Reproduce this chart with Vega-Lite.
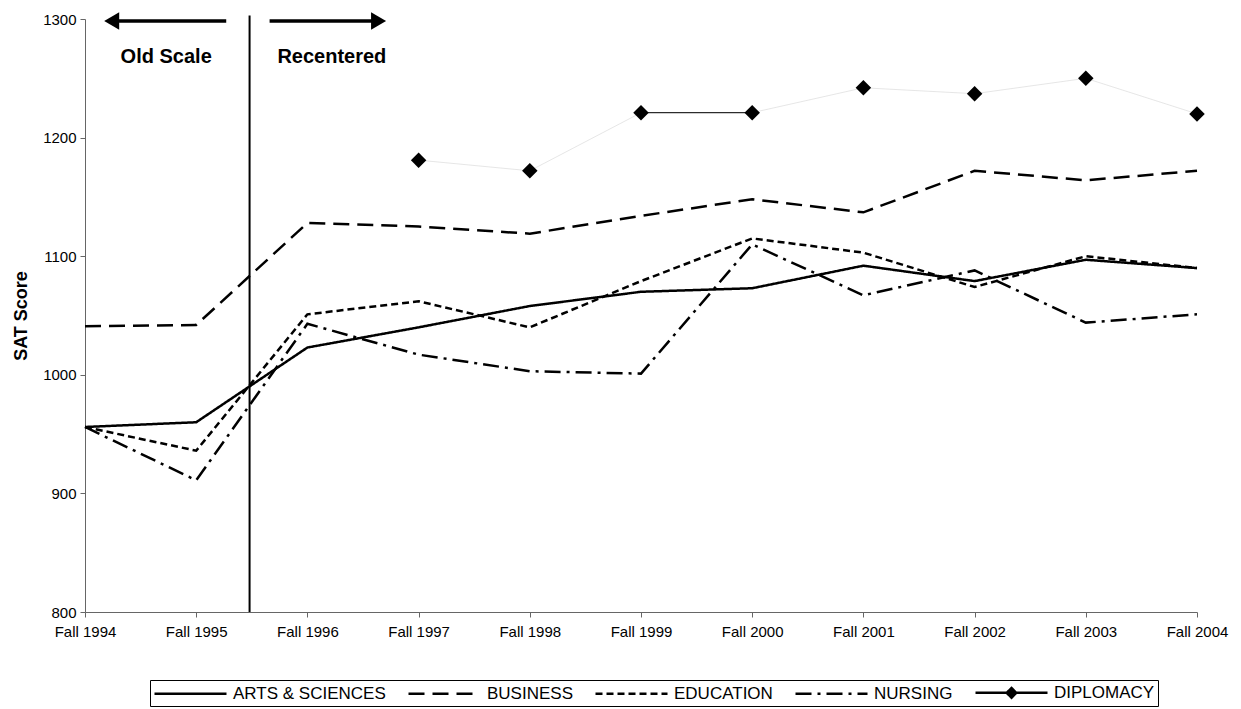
{
  "$schema": "https://vega.github.io/schema/vega-lite/v6.json",
  "width": 1112,
  "height": 593,
  "autosize": {"type": "none"},
  "padding": {"left": 85, "top": 19, "right": 44, "bottom": 97},
  "background": "white",
  "config": {
    "view": {"stroke": null},
    "font": "Liberation Sans",
    "axis": {"domainColor": "#666", "tickColor": "#666", "labelColor": "black", "labelFont": "Liberation Sans", "labelFontSize": 15, "grid": false, "tickSize": 5},
    "legend": {
      "orient": "none", "legendX": 65, "legendY": 661, "direction": "horizontal", "columns": 5,
      "strokeColor": "black", "fillColor": "white", "padding": 3,
      "symbolType": "M-1,0H8", "symbolSize": 256, "symbolStrokeColor": "black",
      "labelFont": "Liberation Sans", "labelFontSize": 17, "labelColor": "black", "labelLimit": 300,
      "columnPadding": 17, "labelOffset": 61
    }
  },
  "datasets": {
    "scores": [
      {"year": 1994, "series": "ARTS & SCIENCES", "value": 956},
      {"year": 1995, "series": "ARTS & SCIENCES", "value": 960},
      {"year": 1996, "series": "ARTS & SCIENCES", "value": 1023},
      {"year": 1997, "series": "ARTS & SCIENCES", "value": 1040},
      {"year": 1998, "series": "ARTS & SCIENCES", "value": 1058},
      {"year": 1999, "series": "ARTS & SCIENCES", "value": 1070},
      {"year": 2000, "series": "ARTS & SCIENCES", "value": 1073},
      {"year": 2001, "series": "ARTS & SCIENCES", "value": 1092},
      {"year": 2002, "series": "ARTS & SCIENCES", "value": 1079},
      {"year": 2003, "series": "ARTS & SCIENCES", "value": 1097},
      {"year": 2004, "series": "ARTS & SCIENCES", "value": 1090},
      {"year": 1994, "series": "BUSINESS", "value": 1041},
      {"year": 1995, "series": "BUSINESS", "value": 1042},
      {"year": 1996, "series": "BUSINESS", "value": 1128},
      {"year": 1997, "series": "BUSINESS", "value": 1125},
      {"year": 1998, "series": "BUSINESS", "value": 1119},
      {"year": 1999, "series": "BUSINESS", "value": 1134},
      {"year": 2000, "series": "BUSINESS", "value": 1148},
      {"year": 2001, "series": "BUSINESS", "value": 1137},
      {"year": 2002, "series": "BUSINESS", "value": 1172},
      {"year": 2003, "series": "BUSINESS", "value": 1164},
      {"year": 2004, "series": "BUSINESS", "value": 1172},
      {"year": 1994, "series": "EDUCATION", "value": 956},
      {"year": 1995, "series": "EDUCATION", "value": 936},
      {"year": 1996, "series": "EDUCATION", "value": 1051},
      {"year": 1997, "series": "EDUCATION", "value": 1062},
      {"year": 1998, "series": "EDUCATION", "value": 1040},
      {"year": 1999, "series": "EDUCATION", "value": 1079},
      {"year": 2000, "series": "EDUCATION", "value": 1115},
      {"year": 2001, "series": "EDUCATION", "value": 1103},
      {"year": 2002, "series": "EDUCATION", "value": 1074},
      {"year": 2003, "series": "EDUCATION", "value": 1100},
      {"year": 2004, "series": "EDUCATION", "value": 1090},
      {"year": 1994, "series": "NURSING", "value": 956},
      {"year": 1995, "series": "NURSING", "value": 911},
      {"year": 1996, "series": "NURSING", "value": 1043},
      {"year": 1997, "series": "NURSING", "value": 1017},
      {"year": 1998, "series": "NURSING", "value": 1003},
      {"year": 1999, "series": "NURSING", "value": 1001},
      {"year": 2000, "series": "NURSING", "value": 1110},
      {"year": 2001, "series": "NURSING", "value": 1067},
      {"year": 2002, "series": "NURSING", "value": 1088},
      {"year": 2003, "series": "NURSING", "value": 1044},
      {"year": 2004, "series": "NURSING", "value": 1051},
      {"year": 1997, "series": "DIPLOMACY", "value": 1181},
      {"year": 1998, "series": "DIPLOMACY", "value": 1172},
      {"year": 1999, "series": "DIPLOMACY", "value": 1221},
      {"year": 2000, "series": "DIPLOMACY", "value": 1221},
      {"year": 2001, "series": "DIPLOMACY", "value": 1242},
      {"year": 2002, "series": "DIPLOMACY", "value": 1237},
      {"year": 2003, "series": "DIPLOMACY", "value": 1250},
      {"year": 2004, "series": "DIPLOMACY", "value": 1220}
    ],
    "divider": [{"x": 1995.48, "y": 800, "y2": 1303}],
    "arrows": [
      {"x": 1995.27, "x2": 1994.26, "y": 1298.3, "dir": "left", "head": 1994.24},
      {"x": 1995.66, "x2": 1996.62, "y": 1298.3, "dir": "right", "head": 1996.64}
    ],
    "labels": [
      {"x": 1994.73, "y": 1268, "text": "Old Scale"},
      {"x": 1996.22, "y": 1268, "text": "Recentered"}
    ]
  },
  "layer": [
    {
      "data": {"name": "scores"},
      "transform": [{"filter": "datum.series === 'DIPLOMACY'"}],
      "mark": {"type": "line", "color": "#e0e0e0", "strokeWidth": 0.8},
      "encoding": {
        "x": {"field": "year", "type": "quantitative"},
        "y": {"field": "value", "type": "quantitative"}
      }
    },
    {
      "data": {"name": "scores"},
      "transform": [{"filter": "datum.series !== 'DIPLOMACY'"}],
      "mark": {"type": "line", "color": "black", "strokeCap": "butt", "strokeJoin": "miter"},
      "encoding": {
        "x": {
          "field": "year", "type": "quantitative",
          "scale": {"domain": [1994, 2004], "nice": false, "zero": false},
          "axis": {"title": null, "values": [1994, 1995, 1996, 1997, 1998, 1999, 2000, 2001, 2002, 2003, 2004], "labelExpr": "'Fall ' + datum.value", "labelPadding": 7, "labelFlush": false}
        },
        "y": {
          "field": "value", "type": "quantitative",
          "scale": {"domain": [800, 1300], "nice": false, "zero": false},
          "axis": {"title": "SAT Score", "format": "d", "values": [800, 900, 1000, 1100, 1200, 1300], "titleFontSize": 18, "titleFontWeight": "bold", "titleFont": "Liberation Sans", "titlePadding": 12, "labelPadding": 4}
        },
        "strokeDash": {
          "field": "series", "type": "nominal",
          "scale": {"domain": ["ARTS & SCIENCES", "BUSINESS", "EDUCATION", "NURSING", "DIPLOMACY"], "range": [[1, 0], [16, 8], [7, 4], [16, 6, 3, 6], [1, 0]]},
          "legend": {
            "title": null,
            "encode": {
              "symbols": {
                "update": {
                  "shape": {"signal": "datum.value === 'DIPLOMACY' ? 'M-1,0H8M3.5,-0.6L4.1,0L3.5,0.6L2.9,0Z' : 'M-1,0H8'"},
                  "fill": {"signal": "datum.value === 'DIPLOMACY' ? 'black' : 'transparent'"},
                  "stroke": {"value": "black"},
                  "strokeDash": {"scale": "strokeDash", "field": "value"},
                  "strokeWidth": {"scale": "strokeWidth", "field": "value"},
                  "opacity": {"value": 1}
                }
              }
            }
          }
        },
        "strokeWidth": {
          "field": "series", "type": "nominal",
          "scale": {"domain": ["ARTS & SCIENCES", "BUSINESS", "EDUCATION", "NURSING", "DIPLOMACY"], "range": [2.5, 2.5, 0.8, 2.5, 1]},
          "legend": null
        }
      }
    },
    {
      "data": {"name": "scores"},
      "transform": [{"filter": "datum.series === 'DIPLOMACY' && datum.year >= 1999 && datum.year <= 2000"}],
      "mark": {"type": "line", "color": "black", "strokeWidth": 1},
      "encoding": {
        "x": {"field": "year", "type": "quantitative"},
        "y": {"field": "value", "type": "quantitative"}
      }
    },
    {
      "data": {"name": "scores"},
      "transform": [{"filter": "datum.series === 'DIPLOMACY'"}],
      "mark": {"type": "point", "shape": "diamond", "filled": true, "color": "black", "size": 240, "opacity": 1},
      "encoding": {
        "x": {"field": "year", "type": "quantitative"},
        "y": {"field": "value", "type": "quantitative"}
      }
    },
    {
      "data": {"name": "divider"},
      "mark": {"type": "rule", "color": "black", "strokeWidth": 2},
      "encoding": {
        "x": {"field": "x", "type": "quantitative"},
        "y": {"field": "y", "type": "quantitative"},
        "y2": {"field": "y2"}
      }
    },
    {
      "data": {"name": "arrows"},
      "mark": {"type": "rule", "color": "black", "strokeWidth": 3.5},
      "encoding": {
        "x": {"field": "x", "type": "quantitative"},
        "x2": {"field": "x2"},
        "y": {"field": "y", "type": "quantitative"}
      }
    },
    {
      "data": {"name": "arrows"},
      "mark": {"type": "point", "filled": true, "color": "black", "size": 300, "opacity": 1},
      "encoding": {
        "x": {"field": "head", "type": "quantitative"},
        "y": {"field": "y", "type": "quantitative"},
        "shape": {"field": "dir", "type": "nominal", "scale": {"domain": ["left", "right"], "range": ["triangle-left", "triangle-right"]}, "legend": null}
      }
    },
    {
      "data": {"name": "labels"},
      "mark": {"type": "text", "font": "Liberation Sans", "fontWeight": "bold", "fontSize": 20, "color": "black", "align": "center", "baseline": "middle"},
      "encoding": {
        "x": {"field": "x", "type": "quantitative"},
        "y": {"field": "y", "type": "quantitative"},
        "text": {"field": "text"}
      }
    }
  ],
  "resolve": {"legend": {"shape": "independent"}}
}
